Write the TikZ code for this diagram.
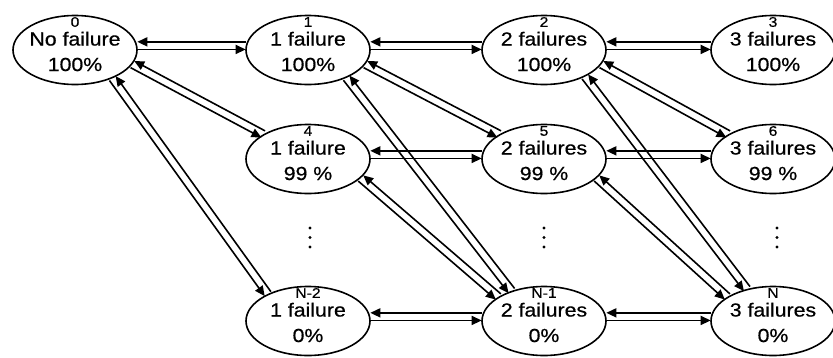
\documentclass[tikz,border=0pt]{standalone}
\usepackage{fontspec}
\setmainfont{Liberation Sans}
\newfontfamily\statefont[FakeStretch=1.12,FakeBold=0.6]{Liberation Sans}
\usetikzlibrary{arrows.meta,calc,shapes.geometric}

\tikzset{
  state/.style={ellipse, draw, line width=1.6pt, minimum width=124pt,
    minimum height=69pt, inner sep=0pt},
  statetext/.style={font=\statefont\fontsize{19}{25.5}\selectfont,
    align=center, inner sep=0pt},
  stateno/.style={font=\statefont\fontsize{14}{14}\selectfont, inner sep=0pt},
  flow/.style={line width=1.6pt, -{Triangle[length=10pt,width=9pt]}},
  vdot/.style={fill=black},
}

% state: name, x, y, index, two-line text
\newcommand\statenode[5]{%
  \node[state] (#1) at (#2,#3) {};
  \node[statetext] (#1t) at ($(#1.center)+(0,-1.5)$) {#5};
  \node[stateno] (#1n) at ($(#1.center)+(0,28)$) {#4};
}

% two opposite arrows side by side between border points of two states
\newcommand\pairarrow[4]{%
  \draw[flow] ($(#1.#2)!3.8pt!-90:(#3.#4)$) -- ($(#3.#4)!3.8pt!90:(#1.#2)$);
  \draw[flow] ($(#3.#4)!3.8pt!-90:(#1.#2)$) -- ($(#1.#2)!3.8pt!90:(#3.#4)$);
}

\begin{document}
\begin{tikzpicture}[x=1pt,y=1pt]
\useasboundingbox (0,0) rectangle (833,-357);

% states
\statenode{s0}{75}{-50}{0}{No failure\\100\%}
\statenode{s1}{308}{-50}{1}{1 failure\\100\%}
\statenode{s2}{544}{-50}{2}{2 failures\\100\%}
\statenode{s3}{773}{-50}{3}{3 failures\\100\%}
\statenode{s4}{308}{-159}{4}{1 failure\\99 \%}
\statenode{s5}{544}{-159}{5}{2 failures\\99 \%}
\statenode{s6}{773}{-159}{6}{3 failures\\99 \%}
\statenode{sa}{308}{-321}{N-2}{1 failure\\0\%}
\statenode{sb}{544}{-321}{N-1}{2 failures\\0\%}
\statenode{sc}{773}{-321}{N}{3 failures\\0\%}

% vertical ellipses between the middle and bottom rows
\foreach \x in {310,544,777}{
  \foreach \y in {-228,-237.5,-247}{
    \fill[vdot] (\x,\y) circle (1.7pt);
  }
}

% horizontal transitions
\pairarrow{s0}{4}{s1}{176}
\pairarrow{s1}{4}{s2}{176}
\pairarrow{s2}{4}{s3}{176}
\pairarrow{s4}{4}{s5}{176}
\pairarrow{s5}{4}{s6}{176}
\pairarrow{sa}{4}{sb}{176}
\pairarrow{sb}{4}{sc}{176}

% transitions to the middle row
\pairarrow{s0}{-14}{s4}{151}
\pairarrow{s1}{-14}{s5}{151}
\pairarrow{s2}{-14}{s6}{151}

% transitions to the bottom row
\pairarrow{s4}{-20}{sb}{152}
\pairarrow{s5}{-20}{sc}{152}
\pairarrow{s0}{-37}{sa}{146}
\pairarrow{s1}{-36}{sb}{137}
\pairarrow{s2}{-33}{sc}{129}
\end{tikzpicture}
\end{document}
